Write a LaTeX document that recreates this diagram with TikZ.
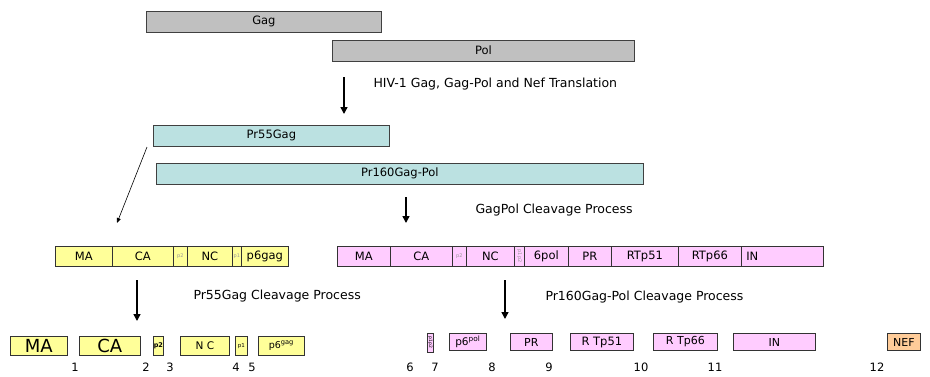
\documentclass[tikz,border=0pt]{standalone}
\usepackage{fontspec}
\setmainfont{DejaVu Sans}
\usetikzlibrary{arrows.meta}

\definecolor{bargray}{HTML}{C0C0C0}
\definecolor{barcyan}{HTML}{BBE1E1}
\definecolor{gagyel}{HTML}{FFFF99}
\definecolor{polpink}{HTML}{FFCCFF}
\definecolor{nefora}{HTML}{FFCC99}

\tikzset{
	bar/.style={draw=black!75, line width=0.8pt, inner sep=0pt, anchor=west, minimum height=21, font=\fontsize{11.5}{11.5}\selectfont},
	graybar/.style={bar, fill=bargray},
	cyanbar/.style={bar, fill=barcyan},
	seg/.style={draw=black!80, line width=0.7pt, inner sep=0pt, anchor=west, minimum height=20, font=\fontsize{11.5}{11.5}\selectfont},
	gagseg/.style={seg, fill=gagyel},
	polseg/.style={seg, fill=polpink},
	tiny/.style={font=\fontsize{5}{5}\selectfont, text=black!40},
	prot/.style={seg, minimum height=17},
	num/.style={font=\fontsize{11.5}{11.5}\selectfont},
	note/.style={anchor=west, font=\fontsize{12.5}{12.5}\selectfont},
	bigarrow/.style={line width=1.4pt, -{Triangle[length=7pt,width=7pt]}},
}

\begin{document}
\begin{tikzpicture}[x=1pt, y=-1pt]
	\useasboundingbox (0,0) rectangle (930,376);
	
	% precursors
	\node[graybar, minimum width=235] (gag) at (146,21.5) {Gag};
	\node[graybar, minimum width=302] (pol) at (332,50.5) {Pol};
	\node[cyanbar, minimum width=236] (pr55) at (153,135.5) {Pr55Gag};
	\node[cyanbar, minimum width=487] (pr160) at (156,173.5) {Pr160Gag-Pol};
	
	% Gag strip
	\node[gagseg, minimum width=57] (gma) at (55,256) {MA};
	\node[gagseg, minimum width=61] (gca) at (112,256) {CA};
	\node[gagseg, minimum width=14, tiny] (gp2) at (173,256) {p2};
	\node[gagseg, minimum width=45] (gnc) at (187,256) {NC};
	\node[gagseg, minimum width=9, tiny] (gp1) at (232,256) {p1};
	\node[gagseg, minimum width=47] (gp6) at (241,256) {p6gag};
	
	% Gag-Pol strip
	\node[polseg, minimum width=53] (pma) at (337,256) {MA};
	\node[polseg, minimum width=62] (pca) at (390,256) {CA};
	\node[polseg, minimum width=14, tiny] (pp2) at (452,256) {p2};
	\node[polseg, minimum width=48] (pnc) at (466,256) {NC};
	\node[polseg, minimum width=10] (ptf) at (514,256) {};
	\node[tiny, rotate=-90] (ptft) at (ptf) {p1p2};
	\node[polseg, minimum width=44] (pp6) at (524,256) {6pol};
	\node[polseg, minimum width=43] (ppr) at (568,256) {PR};
	\node[polseg, minimum width=67] (prt51) at (611,256) {RTp51};
	\node[polseg, minimum width=63] (prt66) at (678,256) {RTp66};
	\node[polseg, minimum width=82, text width=72] (pin) at (741,256) {IN};
	
	% mature Gag products
	\node[gagseg, prot, minimum height=19, minimum width=57, font=\fontsize{18}{18}\selectfont] (ma) at (10,346) {MA};
	\node[gagseg, prot, minimum height=19, minimum width=61, font=\fontsize{18}{18}\selectfont] (ca) at (79,346) {CA};
	\node[gagseg, prot, minimum height=19, minimum width=10, font=\fontsize{6.5}{6.5}\bfseries] (p2) at (153,346) {p2};
	\node[gagseg, prot, minimum height=19, minimum width=49, font=\fontsize{10.5}{10.5}\selectfont] (nc) at (180,346) {N C};
	\node[gagseg, prot, minimum height=19, minimum width=12, font=\fontsize{5.5}{5.5}\selectfont] (p1) at (235,346) {p1};
	\node[gagseg, prot, minimum height=19, minimum width=46, font=\fontsize{9.5}{9.5}\selectfont] (p6g) at (258,346) {p6$^{\mathrm{gag}}$};
	
	% mature Pol products
	\node[polseg, prot, minimum height=19, minimum width=6] (tf) at (427,342.5) {};
	\node[font=\fontsize{4.5}{4.5}\selectfont, rotate=-90] (tft) at (tf) {p1p2};
	\node[polseg, prot, minimum width=37, font=\fontsize{10.5}{10.5}\selectfont] (p6p) at (449,342) {p6$^{\mathrm{pol}}$};
	\node[polseg, prot, minimum width=42, font=\fontsize{11}{11}\selectfont] (pr) at (510,342) {PR};
	\node[polseg, prot, minimum width=63, font=\fontsize{11.5}{11.5}\selectfont] (rt51) at (570,342) {R Tp51};
	\node[polseg, prot, minimum width=64, font=\fontsize{11}{11}\selectfont] (rt66) at (653,342) {R Tp66};
	\node[polseg, prot, minimum width=82, font=\fontsize{11}{11}\selectfont] (in) at (733,342) {IN};
	\node[seg, prot, fill=nefora, minimum width=33, font=\fontsize{11}{11}\selectfont] (nef) at (887,342) {NEF};
	
	% cleavage sites
	\node[num] (c1) at (75,367) {1};
	\node[num] (c2) at (146,367) {2};
	\node[num] (c3) at (170,367) {3};
	\node[num] (c4) at (236,367) {4};
	\node[num] (c5) at (252,367) {5};
	\node[num] (c6) at (410,367) {6};
	\node[num] (c7) at (435,367) {7};
	\node[num] (c8) at (492,367) {8};
	\node[num] (c9) at (549,367) {9};
	\node[num] (c10) at (641,367) {10};
	\node[num] (c11) at (715,367) {11};
	\node[num] (c12) at (877,367) {12};
	
	% steps
	\node[note] (trans) at (370,84) {HIV-1 Gag, Gag-Pol and Nef Translation};
	\node[note] (gpcl) at (472,210) {GagPol Cleavage Process};
	\node[note] (gagcl) at (190,296) {Pr55Gag Cleavage Process};
	\node[note] (polcl) at (542,297) {Pr160Gag-Pol Cleavage Process};
	
	\coordinate (a1s) at (344,77); \coordinate (a1e) at (344,114);
	\coordinate (a2s) at (406,197); \coordinate (a2e) at (406,223);
	\coordinate (a3s) at (137,280); \coordinate (a3e) at (137,321);
	\coordinate (a4s) at (505,280); \coordinate (a4e) at (505,319);
	\coordinate (dgs) at (147,147); \coordinate (dge) at (117,223);
	
	\draw[bigarrow] (a1s) -- (a1e);
	\draw[bigarrow] (a2s) -- (a2e);
	\draw[bigarrow] (a3s) -- (a3e);
	\draw[bigarrow] (a4s) -- (a4e);
	\draw[line width=0.6pt, -{Triangle[length=5pt,width=4pt]}] (dgs) -- (dge);
\end{tikzpicture}
\end{document}
